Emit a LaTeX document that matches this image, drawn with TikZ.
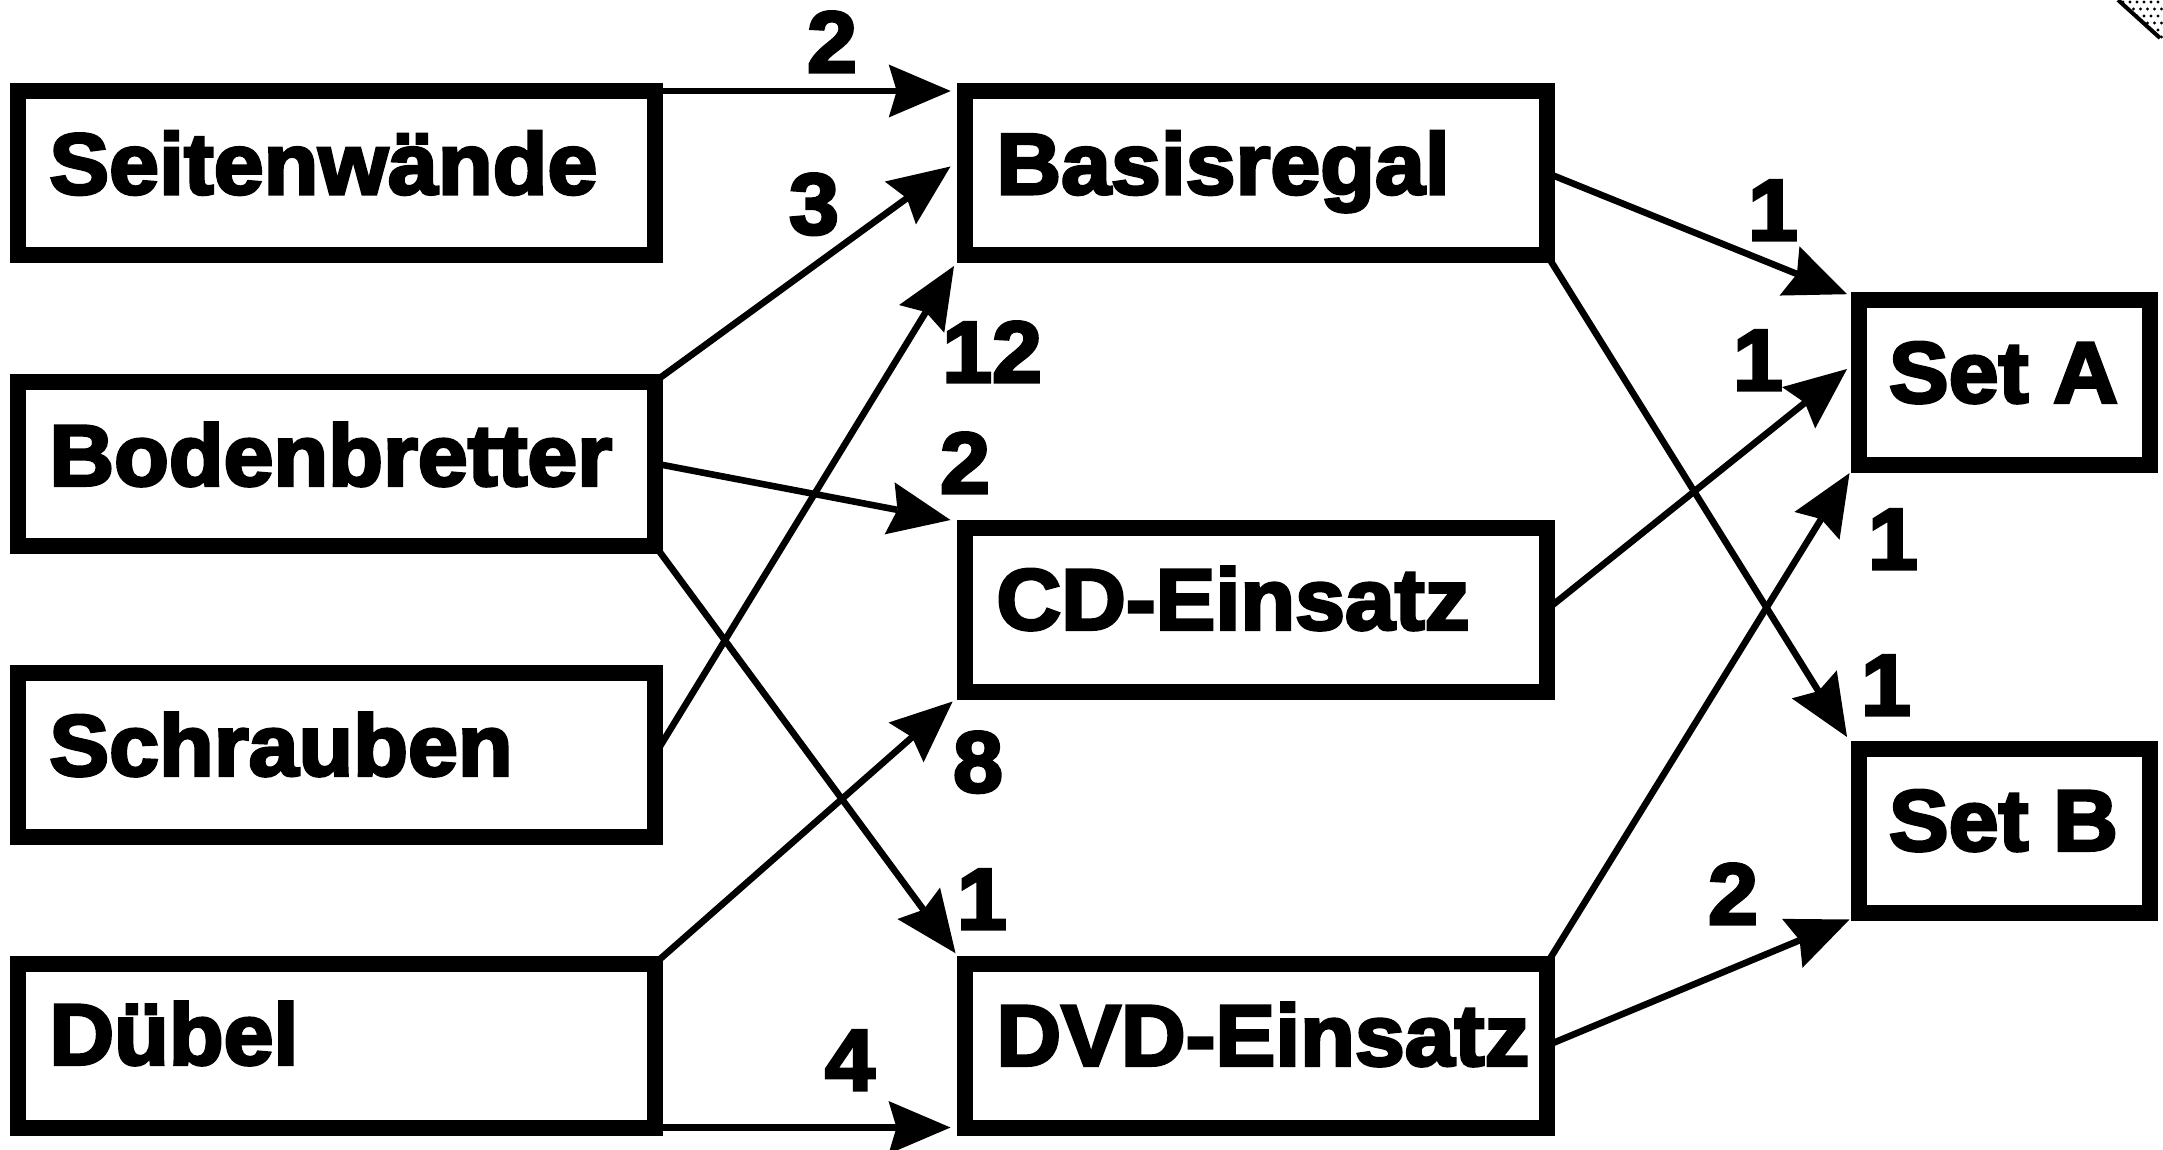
\documentclass[tikz,border=0pt]{standalone}
\usepackage{fontspec}
\setmainfont{Liberation Sans}[FakeStretch=1.035, BoldFeatures={FakeBold=3.5}]
\usetikzlibrary{arrows.meta,calc}
\begin{document}
\begin{tikzpicture}[x=0.5pt,y=-0.5pt,
  box/.style={draw, line width=8pt, outer sep=0pt, inner sep=0pt, minimum height=82pt},
  lbox/.style={box, minimum width=318.5pt},
  mbox/.style={box, minimum width=291pt},
  sbox/.style={box, minimum width=145.5pt},
  txt/.style={inner sep=0pt, anchor=base west, font=\fontsize{43.3pt}{50pt}\selectfont\bfseries},
  num/.style={inner sep=0pt, text height=31pt, text depth=0pt, font=\fontsize{43.3pt}{50pt}\selectfont\bfseries},
  conn/.style={line width=3.3pt, -{Stealth[length=31pt,width=26.5pt,inset=4pt,line width=0pt]}}
]
\useasboundingbox (0,0) rectangle (2163,1150);
% boxes
\node[lbox] (seit) at (336.5,173) {};
\node[lbox] (bod) at (336.5,463.5) {};
\node[lbox] (schr) at (336.5,754.5) {};
\node[lbox] (dub) at (336.5,1045.5) {};
\node[mbox] (bas) at (1256,173) {};
\node[mbox] (cd) at (1256,609.5) {};
\node[mbox] (dvd) at (1256,1045.5) {};
\node[sbox] (seta) at (2004.5,382.5) {};
\node[sbox] (setb) at (2004.5,830.5) {};
% texts
\node[txt] (tseit) at ($(seit.west)+(31,21)$) {Seitenwände};
\node[txt] (tbod) at ($(bod.west)+(31,22)$) {Bodenbretter};
\node[txt] (tschr) at ($(schr.west)+(31,21)$) {Schrauben};
\node[txt] (tdub) at ($(dub.west)+(31,19)$) {Dübel};
\node[txt] (tbas) at ($(bas.west)+(31,21)$) {Basisregal};
\node[txt] (tcd) at ($(cd.west)+(31,20)$) {CD-Einsatz};
\node[txt] (tdvd) at ($(dvd.west)+(31,20)$) {DVD-Einsatz};
\node[txt] (tseta) at ($(seta.west)+(29.5,20)$) {Set A};
\node[txt] (tsetb) at ($(setb.west)+(29.5,20)$) {Set B};
% connectors
\draw[conn] (seit.north east) -- ($(bas.north west)+(-14.3,0)$);
\draw[conn] (bod.north east) -- ($(bas.west)+(-14.5,-6.5)$);
\draw[conn] (schr.east) -- ($(bas.south west)+(-11,11)$);
\draw[conn] (bod.east) -- ($(cd.north west)+(-14.5,-7.5)$);
\draw[conn] (bod.south east) -- ($(dvd.north west)+(-9.5,-10.3)$);
\draw[conn] (dub.north east) -- ($(cd.south west)+(-12.4,10)$);
\draw[conn] (dub.south east) -- ($(dvd.south west)+(-14.5,0)$);
\draw[conn] (bas.east) -- ($(seta.north west)+(-12,-6.3)$);
\draw[conn] (bas.south east) -- ($(setb.north west)+(-12,-11.5)$);
\draw[conn] (cd.east) -- ($(seta.west)+(-12,-13.5)$);
\draw[conn] (dvd.north east) -- ($(seta.south west)+(-9.5,8.6)$);
\draw[conn] (dvd.east) -- ($(setb.south west)+(-9.5,7)$);
% labels
\node[num] (l1) at (832,41) {2};
\node[num] (l2) at (814,203) {3};
\node[num] (l3) at (992,351) {12};
\node[num] (l4) at (965,462) {2};
\node[num] (l5) at (982,898) {1};
\node[num] (l6) at (978,761) {8};
\node[num] (l7) at (850,1059) {4};
\node[num] (l8) at (1773,209) {1};
\node[num] (l9) at (1886,684) {1};
\node[num] (l10) at (1758,359) {1};
\node[num] (l11) at (1893,538) {1};
\node[num] (l12) at (1733,893) {2};
% corner fragment
\begin{scope}
  \clip (2118,0) -- (2163,0) -- (2163,40) -- cycle;
  \foreach \i in {0,...,7} {
    \foreach \j in {0,...,6} {
      \fill ({2116+7*\i+3.5*mod(\j,2)},{2+7*\j}) circle[radius=1.6];
    }
  }
\end{scope}
\draw[line width=2pt] (2118,0) -- (2160,38);
\end{tikzpicture}
\end{document}
